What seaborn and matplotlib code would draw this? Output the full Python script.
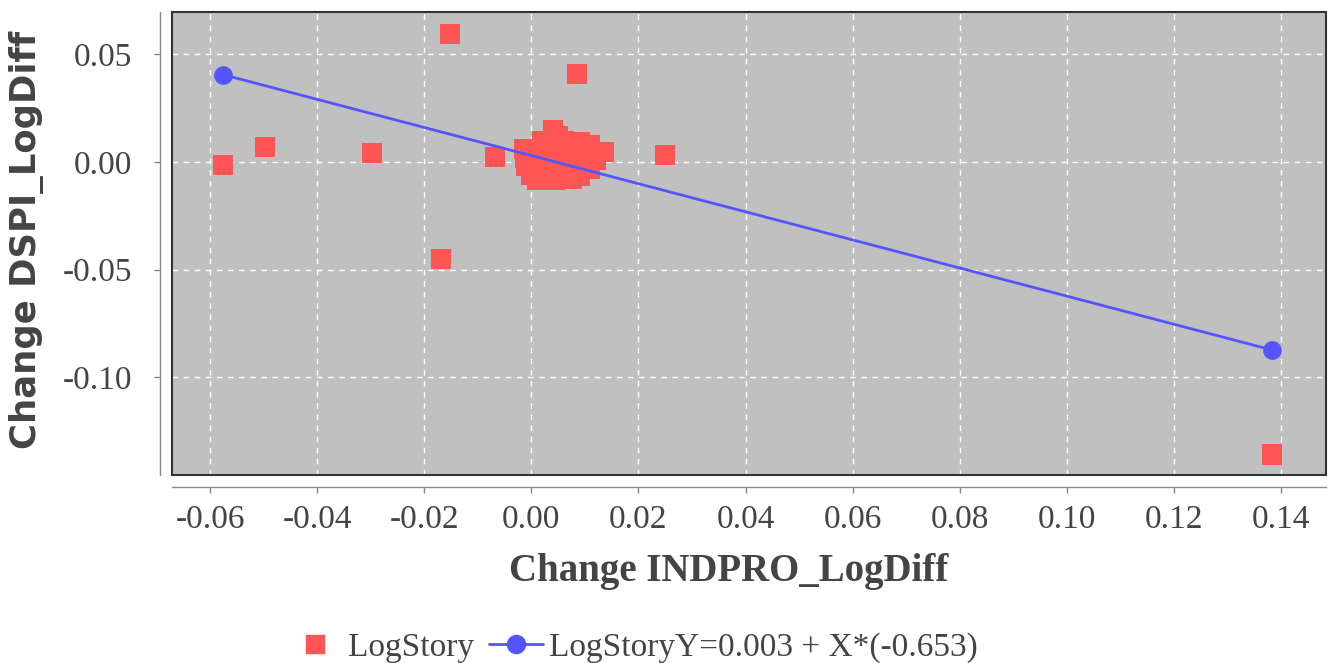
import numpy as np
import pandas as pd
import matplotlib
matplotlib.use("Agg")
import matplotlib.pyplot as plt
from matplotlib.patches import Rectangle
from matplotlib.lines import Line2D
import seaborn as sns

# scatter points
outlier_x = [-0.0575, -0.0497, -0.0298, -0.0169, -0.0152, -0.0068, 0.0085, 0.0249, 0.1383]
outlier_y = [-0.0014, 0.0070, 0.0042, -0.0450, 0.0596, 0.0023, 0.0409, 0.0033, -0.1359]

cluster_x = [0.0041, 0.0050, 0.0020, 0.0060, 0.0090, 0.0110, -0.0014, 0.0030, 0.0075,
             0.0136, 0.0115, -0.0012, 0.0040, 0.0065, 0.0100, -0.0010, 0.0020, 0.0050,
             0.0085, 0.0110, 0.0000, 0.0030, 0.0060, 0.0090, 0.0010, 0.0045, 0.0075,
             -0.0005, 0.0015, 0.0095, 0.0120, 0.0025, 0.0070, 0.0055]
cluster_y = [0.0149, 0.0120, 0.0098, 0.0098, 0.0095, 0.0080, 0.0060, 0.0060, 0.0055,
             0.0045, 0.0030, 0.0020, 0.0020, 0.0010, 0.0000, -0.0020, -0.0010, -0.0030,
             -0.0035, -0.0030, -0.0060, -0.0070, -0.0080, -0.0065, -0.0084, -0.0084, -0.0080,
             0.0000, 0.0035, 0.0060, 0.0010, -0.0045, 0.0030, -0.0060]

# fitted line
intercept = 0.003
slope = -0.653
fit_x = [-0.0575, 0.1383]

x_ticks = [-0.06, -0.04, -0.02, 0.00, 0.02, 0.04, 0.06, 0.08, 0.10, 0.12, 0.14]
y_ticks = [-0.10, -0.05, 0.00, 0.05]

pts = pd.DataFrame({"x": outlier_x + cluster_x, "y": outlier_y + cluster_y})
fit = pd.DataFrame({"x": fit_x, "y": [intercept + slope * v for v in fit_x]})

sns.set_style("white")
plt.rcParams["axes.unicode_minus"] = False
serif = ["Liberation Serif", "DejaVu Serif"]

fig = plt.figure(figsize=(13.3, 6.63), dpi=100)
ax = fig.add_axes([172 / 1330, 1 - 475 / 663, (1326 - 172) / 1330, (475 - 12) / 663])
ax.set_facecolor("#c0c0c0")

red = "#ff5555"
blue = "#5555ff"
sns.scatterplot(data=pts, x="x", y="y", ax=ax, marker="s", s=210, color=red,
                edgecolor="none", linewidth=0, zorder=3)
sns.lineplot(data=fit, x="x", y="y", ax=ax, color=blue, linewidth=2, marker="o",
             markersize=13.5, markeredgewidth=0, zorder=4)

# offset axis lines (reset tick styling, so do this first)
for side in ["top", "right"]:
    ax.spines[side].set_visible(False)
for side in ["left", "bottom"]:
    ax.spines[side].set_position(("outward", 8.6))
    ax.spines[side].set_color("#888888")
    ax.spines[side].set_linewidth(1)

ax.set_xlim(-0.0671, 0.1484)
ax.set_ylim(-0.1454, 0.0697)
ax.set_xticks(x_ticks)
ax.set_yticks(y_ticks)
ax.set_xticklabels([f"{v:.2f}" for v in x_ticks])
ax.set_yticklabels([f"{v:.2f}" for v in y_ticks])
ax.tick_params(axis="both", which="both", length=4.3, width=1, color="#888888",
               labelcolor="#444444", labelsize=24, bottom=True, left=True)
ax.tick_params(axis="x", pad=8)
ax.tick_params(axis="y", pad=16)
for lab in ax.get_xticklabels() + ax.get_yticklabels():
    lab.set_fontfamily(serif)

ax.grid(True, color="white", linestyle=(0, (4, 4)), linewidth=1)
ax.set_axisbelow(True)

ax.add_patch(Rectangle((0, 0), 1, 1, transform=ax.transAxes, fill=False,
                       edgecolor="#333333", linewidth=1.5, zorder=5, clip_on=False))

ax.set_xlabel("Change INDPRO_LogDiff", family=serif, fontweight="bold",
              fontsize=28, color="#444444", va="center")
ax.set_ylabel("Change DSPI_LogDiff", family="DejaVu Sans", fontweight="bold",
              fontsize=25.5, color="#444444", va="center")
ax.xaxis.set_label_coords((729 - 172) / 1154, (475 - 572) / 463)
ax.yaxis.set_label_coords((27 - 172) / 1154, (475 - 240) / 463)

handles = [
    Line2D([], [], color=red, marker="s", linestyle="none", markersize=13),
    Line2D([], [], color=blue, marker="o", linewidth=2, markersize=13),
]
fig.legend(handles, ["LogStory", "LogStoryY=0.003 + X*(-0.653)"], loc="center",
           bbox_to_anchor=(633 / 1330, 15 / 663), ncol=2, frameon=False,
           prop={"family": serif, "size": 24}, labelcolor="#444444",
           handlelength=1.6, handletextpad=0.2, columnspacing=0.45,
           borderpad=0, borderaxespad=0)

fig.savefig("out.png", dpi=100)
